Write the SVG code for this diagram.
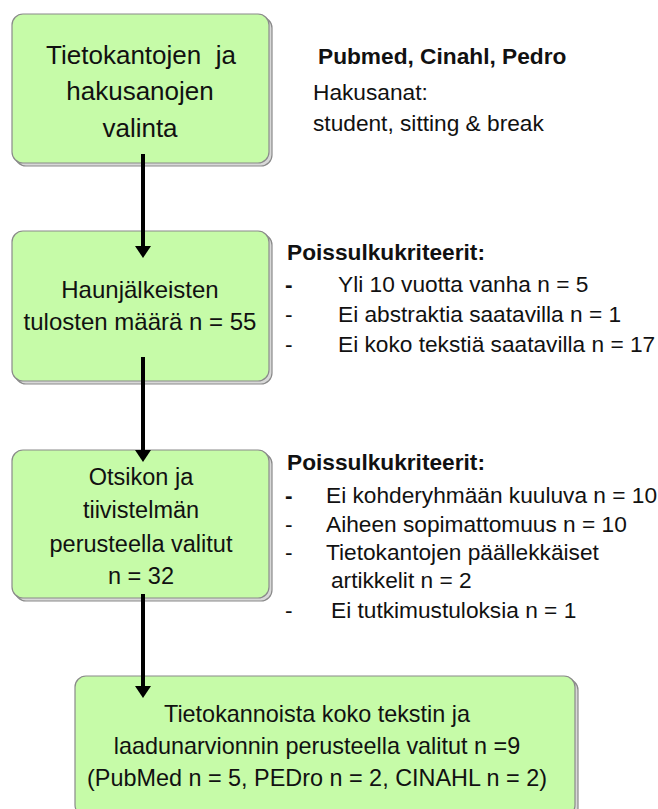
<svg xmlns="http://www.w3.org/2000/svg" width="658" height="809" viewBox="0 0 658 809">
<defs>
<style>
.shadow{fill:#d8d8d8;stroke:#8a8a8a;stroke-width:1.2}
.box{fill:#c6fba8;stroke:#8a8a8a;stroke-width:1.2}
.t{font-family:"Liberation Sans",Arial,sans-serif;fill:#111;white-space:pre}
.c{text-anchor:middle}
.b{font-weight:bold}
.r{font-size:22.7px}
.conn line{stroke:#000;stroke-width:4}
.conn path{fill:#000}
</style>
</defs>
<rect width="658" height="809" fill="#fff"/>
<g id="n1">
<rect class="shadow" x="15" y="17" width="257" height="149" rx="11"/>
<rect class="box" x="12" y="14" width="257" height="149" rx="11"/>
<text class="t c" x="141" y="64" font-size="26" xml:space="preserve">Tietokantojen  ja</text>
<text class="t c" x="140" y="100" font-size="26">hakusanojen</text>
<text class="t c" x="140" y="137" font-size="26">valinta</text>
</g>
<g id="n2">
<rect class="shadow" x="15" y="234" width="257" height="150" rx="11"/>
<rect class="box" x="12" y="231" width="257" height="150" rx="11"/>
<text class="t c" x="140" y="298" font-size="24">Haunjälkeisten</text>
<text class="t c" x="140" y="330" font-size="24">tulosten määrä n = 55</text>
</g>
<g id="n3">
<rect class="shadow" x="15" y="453" width="257" height="148" rx="11"/>
<rect class="box" x="12" y="450" width="257" height="148" rx="11"/>
<text class="t c" x="141" y="485" font-size="23.5">Otsikon ja</text>
<text class="t c" x="141" y="518" font-size="23.5">tiivistelmän</text>
<text class="t c" x="141" y="552" font-size="23.5">perusteella valitut</text>
<text class="t c" x="141" y="584" font-size="23.5">n = 32</text>
</g>
<g id="n4">
<rect class="shadow" x="78" y="679" width="500" height="140" rx="11"/>
<rect class="box" x="75" y="676" width="500" height="140" rx="11"/>
<text class="t c" x="317" y="722" font-size="23.4">Tietokannoista koko tekstin ja</text>
<text class="t c" x="317" y="754" font-size="23.4">laadunarvionnin perusteella valitut n =9</text>
<text class="t c" x="317" y="786" font-size="23.4">(PubMed n = 5, PEDro n = 2, CINAHL n = 2)</text>
</g>
<g id="info1">
<text class="t b r" x="318" y="64">Pubmed, Cinahl, Pedro</text>
<text class="t r" x="313" y="100">Hakusanat:</text>
<text class="t r" x="313" y="131">student, sitting &amp; break</text>
</g>
<g id="info2">
<text class="t b r" x="287" y="260">Poissulkukriteerit:</text>
<text class="t b r" x="285" y="292">-</text>
<text class="t r" x="338" y="292">Yli 10 vuotta vanha n = 5</text>
<text class="t r" x="285" y="322">-</text>
<text class="t r" x="338" y="322">Ei abstraktia saatavilla n = 1</text>
<text class="t r" x="285" y="352">-</text>
<text class="t r" x="338" y="352">Ei koko tekstiä saatavilla n = 17</text>
</g>
<g id="info3">
<text class="t b r" x="287" y="470">Poissulkukriteerit:</text>
<text class="t b r" x="285" y="503">-</text>
<text class="t r" x="326" y="503">Ei kohderyhmään kuuluva n = 10</text>
<text class="t r" x="285" y="532">-</text>
<text class="t r" x="326" y="532">Aiheen sopimattomuus n = 10</text>
<text class="t r" x="285" y="560">-</text>
<text class="t r" x="326" y="560">Tietokantojen päällekkäiset</text>
<text class="t r" x="331" y="588">artikkelit n = 2</text>
<text class="t r" x="285" y="618">-</text>
<text class="t r" x="331" y="618">Ei tutkimustuloksia n = 1</text>
</g>
<g id="connectors" class="conn">
<line x1="143" y1="154" x2="143" y2="248"/>
<path d="M135,246 L151,246 L143,258 Z"/>
<line x1="143" y1="357" x2="143" y2="452"/>
<path d="M135,450 L151,450 L143,462 Z"/>
<line x1="143" y1="594" x2="143" y2="688"/>
<path d="M135,686 L151,686 L143,698 Z"/>
</g>
</svg>
